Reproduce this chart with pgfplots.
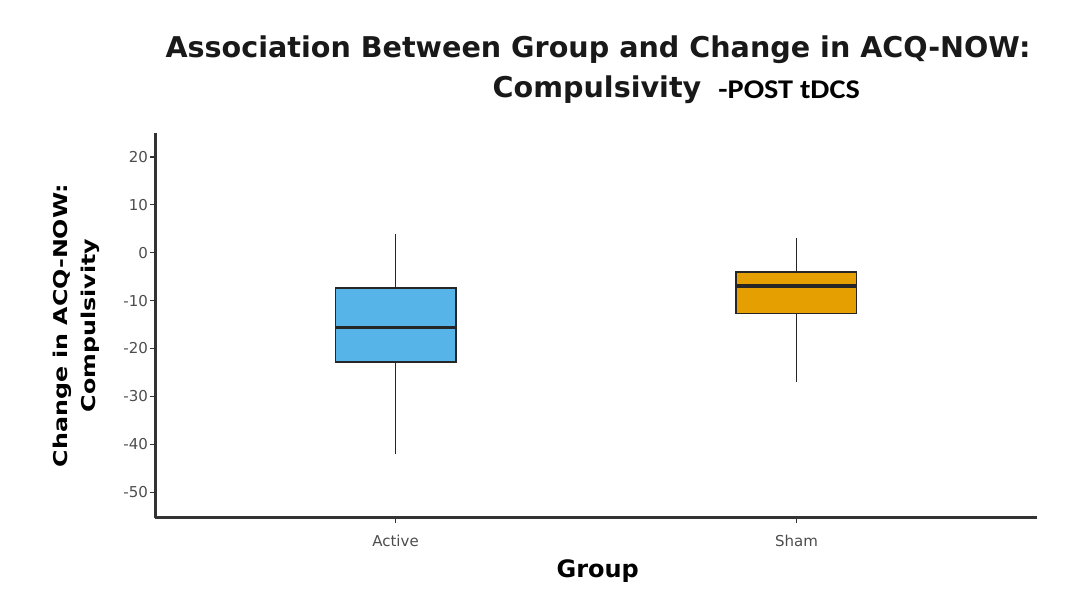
\documentclass[border=0pt]{standalone}
\usepackage{graphicx}
\usepackage{pgfplots}
\pgfplotsset{compat=1.18}
\usepgfplotslibrary{statistics}
\usepackage{fontspec}
\setmainfont{DejaVu Sans}
\newfontfamily\calib{Carlito}
\definecolor{activeblue}{HTML}{56B4E9}
\definecolor{shamorange}{HTML}{E69F00}
\definecolor{axisgray}{HTML}{333333}
\definecolor{tickgray}{HTML}{4D4D4D}
\begin{document}
\begin{tikzpicture}
\useasboundingbox (0pt,0pt) rectangle (537.5pt,302pt);
\begin{axis}[
  at={(77.5pt,43pt)}, anchor=south west,
  scale only axis, width=441pt, height=192.5pt,
  xmin=0.4, xmax=2.6, ymin=-55.4, ymax=25,
  axis lines=left, axis line style={-, axisgray, line width=1.5pt},
  xtick={1,2}, xticklabels={Active,Sham},
  ytick={-50,-40,...,20},
  tick style={axisgray, line width=0.6pt},
  major tick length=2.5pt,
  tick align=outside,
  ticklabel style={font=\fontsize{7.5}{9}\selectfont, text=tickgray},
  /pgf/number format/assume math mode=true,
  yticklabel style={xshift=2.5pt},
  xticklabel style={yshift=-2.5pt},
  xlabel={Group},
  xlabel style={at={(axis description cs:0.502,-0.138)}, anchor=center,
    font=\bfseries\fontsize{12}{14}\selectfont},
  ylabel={\scalebox{1.25}[1]{Change in ACQ-NOW:}\\\scalebox{1.25}[1]{Compulsivity}},
  ylabel style={at={(axis description cs:-0.0895,0.5)}, anchor=center,
    align=center, font=\bfseries\fontsize{9.5}{14}\selectfont},
  boxplot/draw direction=y,
  clip=false,
]
% Active group
\addplot[boxplot prepared={draw position=1, box extend=0.3, whisker extend=0,
    lower whisker=-42, lower quartile=-22.9, median=-15.6,
    upper quartile=-7.3, upper whisker=4},
  boxplot/every median/.style={line width=1.8pt},
  draw=black!85, line width=0.9pt, fill=activeblue] coordinates {};
% Sham group
\addplot[boxplot prepared={draw position=2, box extend=0.3, whisker extend=0,
    lower whisker=-27, lower quartile=-12.7, median=-7,
    upper quartile=-4, upper whisker=3},
  boxplot/every median/.style={line width=1.8pt},
  draw=black!85, line width=0.9pt, fill=shamorange] coordinates {};
\end{axis}
\node[font=\bfseries\fontsize{14.3}{16}\selectfont, text=black!90, anchor=base] at (299pt,273pt) {Association Between Group and Change in ACQ-NOW:};
\node[font=\bfseries\fontsize{14.3}{16}\selectfont, text=black!90, anchor=base] at (298.5pt,253pt) {Compulsivity};
\node[font=\calib\bfseries\fontsize{13.5}{16}\selectfont, anchor=base west, inner sep=0pt] at (359pt,252.5pt) {\scalebox{1.12}[1]{-POST tDCS}};
\end{tikzpicture}
\end{document}
